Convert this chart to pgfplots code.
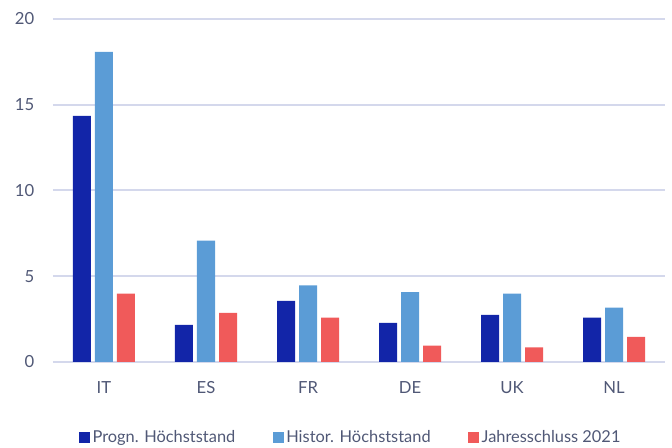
\documentclass[border=0pt]{standalone}
\usepackage{fontspec}
\setmainfont{Lato}
\usepackage{pgfplots}
\pgfplotsset{compat=1.18}
\definecolor{cdark}{RGB}{18,37,168}
\definecolor{clight}{RGB}{91,156,214}
\definecolor{cred}{RGB}{240,90,90}
\definecolor{cgrid}{RGB}{212,216,236}
\definecolor{ctext}{RGB}{80,88,118}
\begin{document}
\begin{tikzpicture}
\path[use as bounding box] (-39.75pt,-64.5pt) rectangle (464.25pt,271.5pt);
\begin{axis}[
  at={(0,0)}, anchor=south west,
  scale only axis, width=459pt, height=257.25pt,
  xmin=-0.5, xmax=5.5, ymin=0, ymax=20,
  ytick={0,5,10,15,20},
  xtick={0,1,2,3,4,5},
  xticklabels={IT,ES,FR,DE,UK,NL},
  major tick length=0pt,
  axis line style={draw=none},
  ymajorgrids, grid style={draw=cgrid, line width=1.5pt},
  /pgf/number format/assume math mode=true,
  tick label style={font=\fontsize{12.5}{14}\selectfont, text=ctext},
  yticklabel style={xshift=-10.5pt},
  xticklabel style={yshift=-11pt},
  ybar, bar width=13.5pt,
  legend style={at={(0.487,-0.219)}, anchor=center, draw=none, fill=none,
    legend columns=3, font=\fontsize{12.3}{14}\selectfont, text=ctext,
    /tikz/every even column/.append style={column sep=26pt},
    inner sep=0pt},
  legend image code/.code={\fill[#1] (0pt,-4.1pt) rectangle (8.25pt,4.15pt);},
]
\addplot[fill=cdark, draw=none, bar shift=-16.5pt] coordinates {(0,14.35) (1,2.17) (2,3.57) (3,2.28) (4,2.75) (5,2.58)};
\addplot[fill=clight, draw=none, bar shift=0pt] coordinates {(0,18.08) (1,7.07) (2,4.47) (3,4.08) (4,3.98) (5,3.17)};
\addplot[fill=cred, draw=none, bar shift=16.5pt] coordinates {(0,3.98) (1,2.87) (2,2.58) (3,0.95) (4,0.85) (5,1.47)};
\legend{Progn. Höchststand, Histor. Höchststand, Jahresschluss 2021}
\end{axis}
\end{tikzpicture}
\end{document}
